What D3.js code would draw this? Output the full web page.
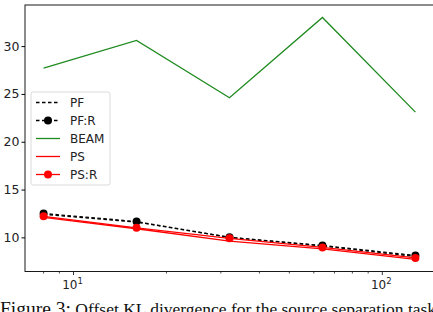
<!DOCTYPE html>
<html>
<head>
<meta charset="utf-8">
<script src="https://cdn.jsdelivr.net/npm/d3@7"></script>
<style>
  body { margin: 0; background: #fff; }
  svg { display: block; }
</style>
</head>
<body>
<script>
// data
var particles = [8, 16, 32, 64, 128];
var pf   = [12.4, 11.6, 10.0, 9.1, 8.0];
var pfR  = [12.5, 11.65, 10.0, 9.15, 8.1];
var beam = [27.7, 30.6, 24.6, 33.0, 23.1];
var ps   = [12.1, 10.9, 9.6, 8.8, 7.7];
var psR  = [12.2, 11.0, 9.9, 8.95, 7.85];
var yTicks = [10, 15, 20, 25, 30];
var caption = ["Figure 3:", " Offset KL divergence for the source separation task"];

var series = [
  {name: "PF",   values: pf,   color: "#000", dash: "3.5,2.5", marker: false},
  {name: "PF:R", values: pfR,  color: "#000", dash: "3.5,2.5", marker: true},
  {name: "BEAM", values: beam, color: "#1f8a1f", dash: null, marker: false},
  {name: "PS",   values: ps,   color: "#ff0000", dash: null, marker: false},
  {name: "PS:R", values: psR,  color: "#ff0000", dash: null, marker: true}
];

var w = 433, h = 312;
var pLeft = 25, pTop = 5, pRight = 434, pBottom = 271.5;

var svg = d3.select("body").append("svg")
            .attr("width", w)
            .attr("height", h);

// scales (matplotlib-style 5% margins)
var lx0 = Math.log10(8), lx1 = Math.log10(128), mx = (lx1 - lx0) * 0.05;
var xScale = d3.scaleLog()
               .domain([Math.pow(10, lx0 - mx), Math.pow(10, lx1 + mx)])
               .range([pLeft, pRight]);
var yScale = d3.scaleLinear()
               .domain([6.43, 34.3])
               .range([pBottom, pTop]);

// lines
var line = d3.line()
             .x(function(d, i){ return xScale(particles[i]); })
             .y(function(d){ return yScale(d); });

series.forEach(function(s){
  svg.append("path")
     .attr("d", line(s.values))
     .attr("fill", "none")
     .attr("stroke", s.color)
     .attr("stroke-width", 1.3)
     .attr("stroke-dasharray", s.dash);
  if (s.marker) {
    svg.selectAll(null)
       .data(s.values)
       .enter()
       .append("circle")
       .attr("cx", function(d, i){ return xScale(particles[i]); })
       .attr("cy", function(d){ return yScale(d); })
       .attr("r", 4)
       .attr("fill", s.color);
  }
});

// y axis
var yAxis = d3.axisLeft(yScale)
              .tickValues(yTicks)
              .tickSize(3.5)
              .tickPadding(2);
var gy = svg.append("g")
            .attr("transform", "translate(" + pLeft + ",0)")
            .call(yAxis);
gy.select(".domain").remove();
gy.selectAll("text")
  .attr("font-family", "DejaVu Sans")
  .attr("font-size", "12.5px")
  .attr("fill", "#222");

// x axis: major and minor ticks
var majors = [10, 100];
var minors = [8, 9, 20, 30, 40, 50, 60, 70, 80, 90];
var gx = svg.append("g")
            .attr("transform", "translate(0," + pBottom + ")");
gx.selectAll("line.minor")
  .data(minors)
  .enter()
  .append("line")
  .attr("x1", function(d){ return xScale(d); })
  .attr("x2", function(d){ return xScale(d); })
  .attr("y1", 0).attr("y2", 2)
  .attr("stroke", "#000").attr("stroke-width", 0.7);
gx.selectAll("line.major")
  .data(majors)
  .enter()
  .append("line")
  .attr("x1", function(d){ return xScale(d); })
  .attr("x2", function(d){ return xScale(d); })
  .attr("y1", 0).attr("y2", 3.5)
  .attr("stroke", "#000").attr("stroke-width", 0.8);
var lab = gx.selectAll("text.major")
            .data(majors)
            .enter()
            .append("text")
            .attr("x", function(d){ return xScale(d) - 1; })
            .attr("y", 17)
            .attr("text-anchor", "middle")
            .attr("font-family", "DejaVu Sans")
            .attr("font-size", "12px")
            .attr("fill", "#222");
lab.append("tspan").text("10");
lab.append("tspan")
   .attr("dy", -5)
   .attr("font-size", "8.5px")
   .text(function(d){ return Math.round(Math.log10(d)); });

// frame
svg.append("rect")
   .attr("x", pLeft).attr("y", pTop)
   .attr("width", pRight - pLeft).attr("height", pBottom - pTop)
   .attr("fill", "none")
   .attr("stroke", "#000")
   .attr("stroke-width", 0.9);

// legend
var lg = svg.append("g").attr("transform", "translate(31,92)");
lg.append("rect")
  .attr("width", 79).attr("height", 93)
  .attr("rx", 2)
  .attr("fill", "rgba(255,255,255,0.85)")
  .attr("stroke", "#d6d6d6")
  .attr("stroke-width", 0.9);
series.forEach(function(s, i){
  var yy = 10.5 + i * 18;
  lg.append("line")
    .attr("x1", 5).attr("x2", 29)
    .attr("y1", yy).attr("y2", yy)
    .attr("stroke", s.color)
    .attr("stroke-width", 1.3)
    .attr("stroke-dasharray", s.dash);
  if (s.marker) {
    lg.append("circle").attr("cx", 17).attr("cy", yy).attr("r", 4).attr("fill", s.color);
  }
  lg.append("text")
    .attr("x", 39).attr("y", yy + 4.5)
    .attr("font-family", "DejaVu Sans")
    .attr("font-size", "12px")
    .attr("fill", "#222")
    .text(s.name);
});

// caption
var cap = svg.append("text")
             .attr("x", 0).attr("y", 315)
             .attr("font-family", "Liberation Serif")
             .attr("fill", "#111");
cap.append("tspan").attr("font-size", "19.5px").text(caption[0]);
cap.append("tspan").attr("font-size", "17.5px").text(caption[1]);
</script>
</body>
</html>
